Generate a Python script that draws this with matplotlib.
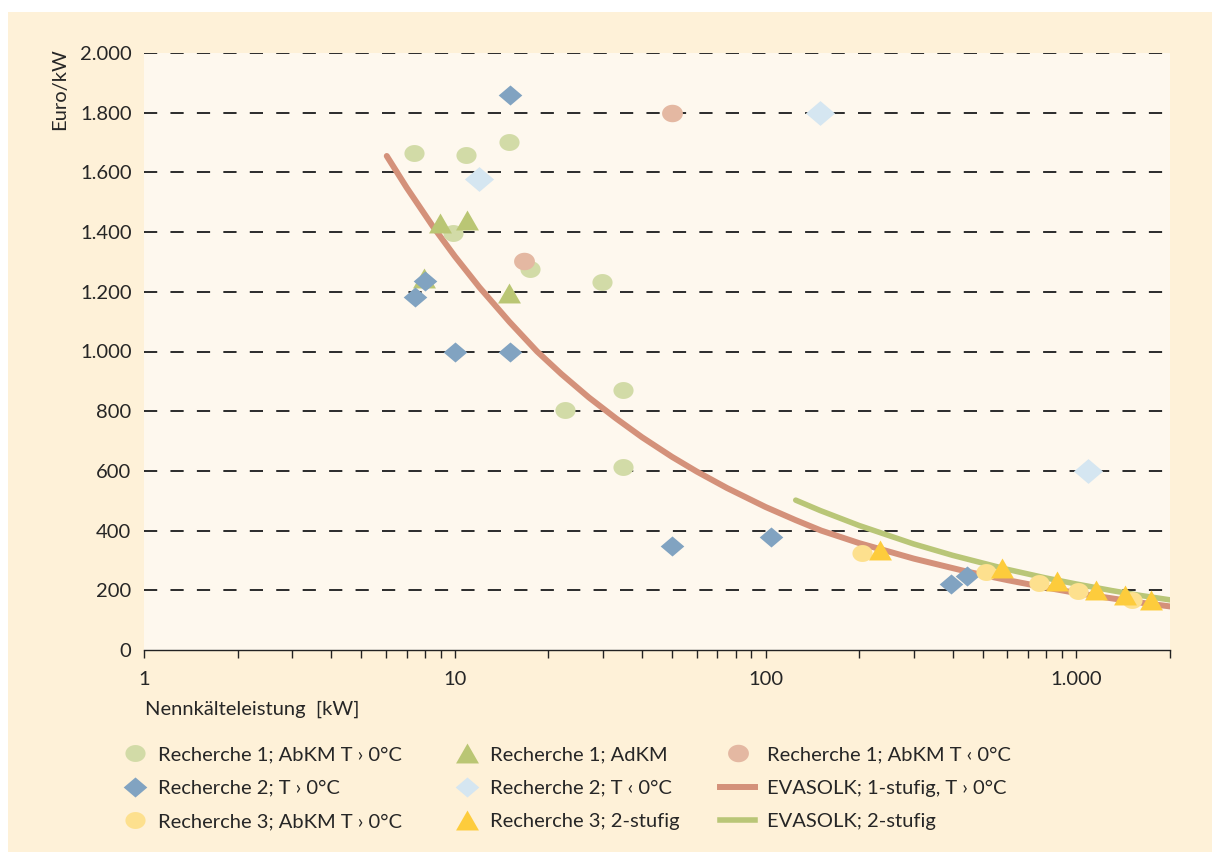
import numpy as np
import matplotlib.pyplot as plt
from matplotlib.path import Path
from matplotlib.patches import Rectangle
from matplotlib.lines import Line2D
from matplotlib.ticker import FixedLocator, FuncFormatter, LogLocator, NullFormatter

plt.rcParams['font.family'] = ['Lato', 'DejaVu Sans']

# Recherche 1; AbKM T > 0°C
r1_warm_x = [7.4, 10.9, 14.9, 9.9, 17.5, 29.7, 22.7, 34.7, 34.7]
r1_warm_y = [1665, 1658, 1702, 1397, 1276, 1233, 804, 871, 613]
# Recherche 1; AdKM
r1_ad_x = [8.95, 10.97, 7.98, 14.97]
r1_ad_y = [1430, 1442, 1245, 1196]
# Recherche 1; AbKM T < 0°C
r1_cold_x = [50, 16.7]
r1_cold_y = [1800, 1303]
# Recherche 2; T > 0°C
r2_warm_x = [15, 7.46, 8.0, 10, 15, 50, 104, 396, 443]
r2_warm_y = [1860, 1183, 1235, 1000, 1000, 348, 379, 221, 248]
# Recherche 2; T < 0°C
r2_cold_x = [12.0, 150, 1093]
r2_cold_y = [1578, 1800, 600]
# Recherche 3; AbKM T > 0°C
r3_abkm_x = [204, 510, 760, 1014, 1514]
r3_abkm_y = [325, 261, 224, 198, 167]
# Recherche 3; 2-stufig
r3_two_x = [233, 578, 869, 1159, 1438, 1742]
r3_two_y = [335, 274, 231, 201, 184, 168]
# EVASOLK trend lines
eva1_x = [6.04, 7, 8.5, 10, 12, 15, 18.4, 22, 27, 33, 40, 50, 60, 75, 100, 125, 151,
          200, 300, 443, 600, 800, 1000, 1300, 1600, 2000]
eva1_y = [1655, 1549, 1419, 1319, 1215, 1099, 1000, 925, 846, 776, 713, 647, 598, 543,
          479, 435, 400, 358, 306, 263, 234, 209, 191, 173, 159, 146]
eva2_x = [125, 150, 200, 300, 400, 600, 800, 1000, 1300, 1600, 2000]
eva2_y = [502, 467, 417, 355, 317, 270, 241, 221, 199, 183, 168]

y_ticks = [0, 200, 400, 600, 800, 1000, 1200, 1400, 1600, 1800, 2000]
x_ticks = [1, 10, 100, 1000]

# marker shapes
t = np.linspace(0, 2 * np.pi, 60)
ellipse = Path(np.column_stack([np.cos(t), 0.84 * np.sin(t)]), closed=True)
diamond = Path([(-1, 0), (0, 0.85), (1, 0), (0, -0.85), (-1, 0)], closed=True)
triangle = Path([(0, 0.87), (-1, -0.87), (1, -0.87), (0, 0.87)], closed=True)

c_green_c = '#d2dba7'
c_green_t = '#bac674'
c_pink = '#e4b8a2'
c_blue = '#81a3c1'
c_lblue = '#d5e6f1'
c_yel_c = '#fde08e'
c_yel_t = '#fdcc3c'
c_eva1 = '#d4917a'
c_eva2 = '#b9c677'
txt_c = '#262626'
fs = 14.5

fig = plt.figure(figsize=(12.12, 8.52), dpi=100, facecolor='white')
fig.patches.append(Rectangle((8 / 1212, 0), 1, 840 / 852, transform=fig.transFigure,
                             facecolor='#fef1d8', edgecolor='none', zorder=-10))
ax = fig.add_axes([144 / 1212, 1 - 650 / 852, (1170 - 144) / 1212, (650 - 53) / 852])
ax.set_facecolor('#fef8ee')

ax.set_xscale('log')
ax.set_xlim(1, 2000)
ax.set_ylim(0, 2000)

for yv in y_ticks[1:]:
    ax.axhline(yv, color='#2b2b2b', lw=1.4, ls=(0, (6.8, 6.8)), zorder=1)

ax.plot(eva1_x, eva1_y, color=c_eva1, lw=4.3, solid_capstyle='round', zorder=2)
ax.plot(eva2_x, eva2_y, color=c_eva2, lw=4.0, solid_capstyle='round', zorder=2)

ms = dict(linestyle='none', markeredgewidth=0)
ax.plot(r1_warm_x, r1_warm_y, marker=ellipse, markersize=14.5, color=c_green_c, zorder=3, **ms)
ax.plot(r1_ad_x, r1_ad_y, marker=triangle, markersize=16.5, color=c_green_t, zorder=3, **ms)
ax.plot(r1_cold_x, r1_cold_y, marker=ellipse, markersize=15, color=c_pink, zorder=3, **ms)
ax.plot(r2_warm_x, r2_warm_y, marker=diamond, markersize=17, color=c_blue, zorder=4, **ms)
ax.plot(r2_cold_x, r2_cold_y, marker=diamond, markersize=21, color=c_lblue, zorder=4, **ms)
ax.plot(r3_abkm_x, r3_abkm_y, marker=ellipse, markersize=14.5, color=c_yel_c, zorder=4, **ms)
ax.plot(r3_two_x, r3_two_y, marker=triangle, markersize=16.5, color=c_yel_t, zorder=4, **ms)

for s in ['left', 'right', 'top']:
    ax.spines[s].set_visible(False)
ax.spines['bottom'].set_color('#222222')
ax.spines['bottom'].set_linewidth(1.0)

ax.yaxis.set_major_locator(FixedLocator(y_ticks))
ax.yaxis.set_major_formatter(FuncFormatter(lambda v, p: f'{int(v):,}'.replace(',', '.')))
ax.tick_params(axis='y', length=0, pad=9, labelsize=fs, labelcolor=txt_c)

ax.xaxis.set_major_locator(FixedLocator(x_ticks))
ax.xaxis.set_major_formatter(FuncFormatter(lambda v, p: f'{int(v):,}'.replace(',', '.')))
ax.xaxis.set_minor_locator(LogLocator(base=10, subs=np.arange(2, 10), numticks=20))
ax.xaxis.set_minor_formatter(NullFormatter())
ax.tick_params(axis='x', which='both', direction='out', length=6, width=1.0,
               color='#222222', pad=9, labelsize=fs, labelcolor=txt_c)

fig.text(60 / 1212, 1 - 48 / 852, 'Euro/kW', rotation=90, ha='center', va='top',
         fontsize=fs, color=txt_c)
fig.text(145 / 1212, 1 - 709 / 852, 'Nennkälteleistung  [kW]', ha='left', va='center',
         fontsize=fs, color=txt_c)

# legend, three columns
def mk(marker, size, color):
    return Line2D([], [], marker=marker, markersize=size, color=color, linestyle='none',
                  markeredgewidth=0)

col1 = [(mk(ellipse, 14.5, c_green_c), 'Recherche 1; AbKM T › 0°C'),
        (mk(diamond, 17, c_blue), 'Recherche 2; T › 0°C'),
        (mk(ellipse, 14.5, c_yel_c), 'Recherche 3; AbKM T › 0°C')]
col2 = [(mk(triangle, 16.5, c_green_t), 'Recherche 1; AdKM'),
        (mk(diamond, 17, c_lblue), 'Recherche 2; T ‹ 0°C'),
        (mk(triangle, 16.5, c_yel_t), 'Recherche 3; 2-stufig')]
col3 = [(mk(ellipse, 15, c_pink), 'Recherche 1; AbKM T ‹ 0°C'),
        (Line2D([], [], color=c_eva1, lw=4.3), 'EVASOLK; 1-stufig, T › 0°C'),
        (Line2D([], [], color=c_eva2, lw=4.0), 'EVASOLK; 2-stufig')]

for items, x0, hl in [(col1, 123, 1.15), (col2, 455, 1.15), (col3, 720, 1.75)]:
    leg = fig.legend([h for h, _ in items], [l for _, l in items], loc='upper left',
                     bbox_to_anchor=(x0 / 1212, 1 - 746 / 852), frameon=False,
                     fontsize=fs, handlelength=hl, handletextpad=0.6,
                     labelspacing=0.82, borderpad=0, borderaxespad=0)
    for txt in leg.get_texts():
        txt.set_color(txt_c)

fig.savefig('out.png', dpi=100, facecolor='white')
